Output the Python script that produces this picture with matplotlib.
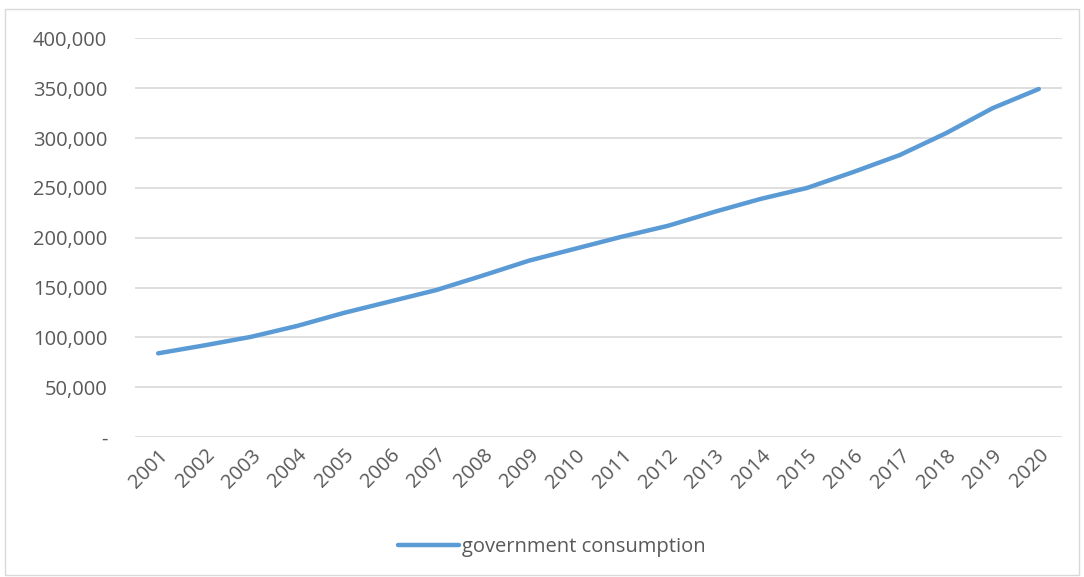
import matplotlib.pyplot as plt
from matplotlib.ticker import FuncFormatter
from matplotlib.patches import Rectangle

years = [str(y) for y in range(2001, 2021)]
consumption = [84000, 92000, 100500, 111500, 124500, 136000, 147500, 162000,
               177000, 189000, 201000, 212000, 226000, 239000, 250000, 266000,
               283000, 305000, 330000, 349300]

plt.rcParams['font.family'] = ['Open Sans', 'DejaVu Sans']
text_col = '#595959'

fig = plt.figure(figsize=(10.84, 5.77), dpi=100)
ax = fig.add_axes([0.1245, 0.2426, 0.9797 - 0.1245, 0.9333 - 0.2426])

ax.plot(range(len(years)), consumption, color='#5B9BD5', lw=3.2,
        solid_capstyle='round', label='government consumption')

ax.set_xlim(-0.5, len(years) - 0.5)
ax.set_ylim(0, 400000)
ax.set_yticks(range(0, 400001, 50000))
ax.yaxis.set_major_formatter(FuncFormatter(lambda v, p: '-' if v == 0 else f'{int(v):,}'))
ax.set_xticks(range(len(years)))
ax.set_xticklabels(years, rotation=45, ha='right', rotation_mode='anchor')

ax.grid(axis='y', color='#D9D9D9', lw=1.2)
ax.set_axisbelow(True)
for s in ax.spines.values():
    s.set_visible(False)
ax.tick_params(length=0, labelsize=14.5, colors=text_col)
ax.tick_params(axis='y', pad=20)
ax.tick_params(axis='x', pad=6)

leg = fig.legend(loc='center', bbox_to_anchor=(0.509, 0.052), frameon=False,
                 fontsize=14.5, handlelength=3.0, handletextpad=0.15)
for t in leg.get_texts():
    t.set_color(text_col)

fig.patches.append(Rectangle((0.005, 0.004), 0.99, 0.98, transform=fig.transFigure,
                             fill=False, edgecolor='#D9D9D9', lw=1))

fig.savefig('out.png', dpi=100)
